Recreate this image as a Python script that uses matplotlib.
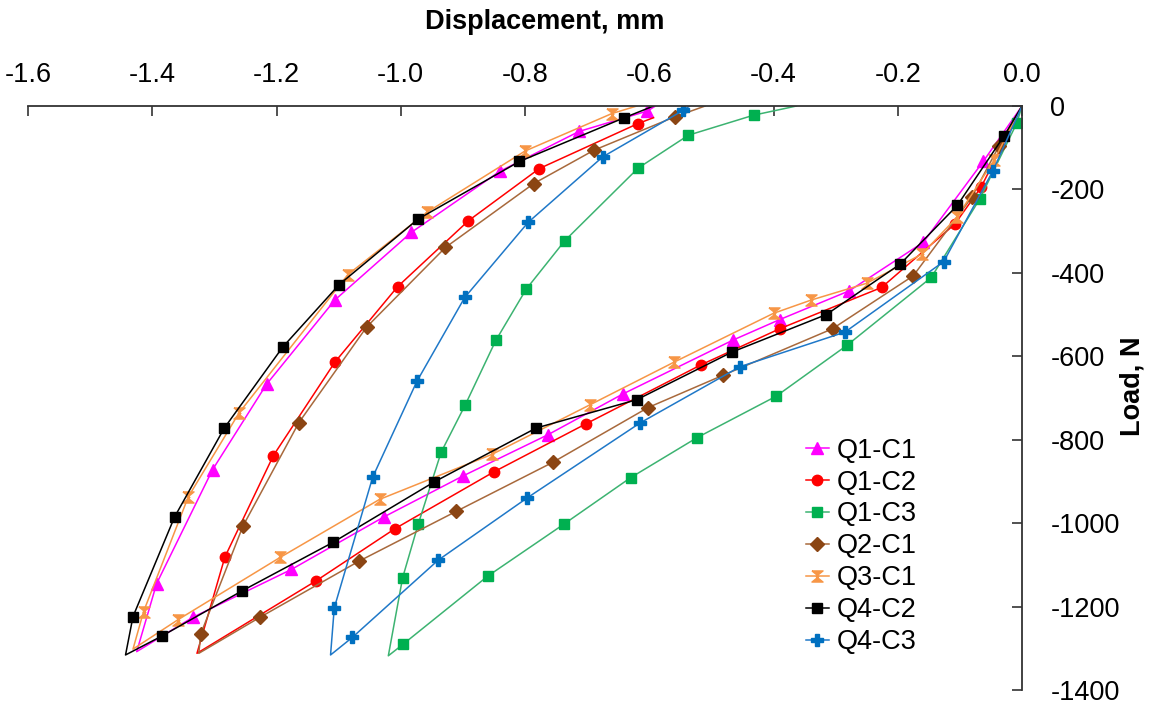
import matplotlib
matplotlib.use('Agg')
import matplotlib.pyplot as plt
from matplotlib.path import Path
import numpy as np

plt.rcParams['font.family'] = ['Liberation Sans', 'DejaVu Sans']
plt.rcParams['axes.unicode_minus'] = False

# ---- data (displacement mm, load N), loading branch then unloading branch ----
names = ['Q1-C1', 'Q1-C2', 'Q1-C3', 'Q2-C1', 'Q3-C1', 'Q4-C2', 'Q4-C3']

q1c1_x = [0, -0.062, -0.159, -0.278, -0.39, -0.465, -0.642, -0.763, -0.9, -1.027, -1.176, -1.335, -1.425,
          -1.393, -1.303, -1.216, -1.106, -0.983, -0.841, -0.713, -0.603, -0.59]
q1c1_y = [0, -132, -327, -443, -512, -561, -690, -788, -887, -985, -1111, -1226, -1308,
          -1145, -872, -667, -465, -303, -157, -61, -12, 0]

q1c2_x = [0, -0.066, -0.108, -0.226, -0.39, -0.516, -0.702, -0.85, -1.009, -1.137, -1.328,
          -1.283, -1.205, -1.106, -1.005, -0.891, -0.777, -0.618, -0.593]
q1c2_y = [0, -195, -283, -435, -534, -620, -762, -877, -1013, -1139, -1312,
          -1081, -838, -614, -433, -275, -150, -42, -28]

q1c3_x = [0, -0.008, -0.068, -0.146, -0.282, -0.396, -0.523, -0.63, -0.738, -0.86, -0.996, -1.02,
          -0.997, -0.972, -0.935, -0.896, -0.847, -0.798, -0.736, -0.618, -0.537, -0.432, -0.363]
q1c3_y = [0, -40, -223, -411, -574, -696, -795, -891, -1003, -1127, -1290, -1318,
          -1131, -1003, -830, -716, -562, -439, -323, -149, -70, -22, 0]

q2c1_x = [0, -0.037, -0.081, -0.175, -0.305, -0.482, -0.602, -0.755, -0.911, -1.067, -1.227, -1.325,
          -1.322, -1.254, -1.164, -1.055, -0.928, -0.786, -0.689, -0.559, -0.51]
q2c1_y = [0, -96, -219, -407, -534, -646, -723, -854, -972, -1091, -1226, -1312,
          -1266, -1007, -759, -530, -339, -186, -106, -26, 0]

q3c1_x = [0, -0.045, -0.105, -0.161, -0.25, -0.339, -0.40, -0.56, -0.695, -0.853, -1.034, -1.194, -1.358, -1.431,
          -1.414, -1.342, -1.26, -1.085, -0.958, -0.8, -0.66, -0.62]
q3c1_y = [0, -130, -267, -355, -425, -465, -497, -614, -716, -835, -943, -1082, -1231, -1302,
          -1212, -937, -735, -404, -255, -108, -18, 0]

q4c2_x = [0, -0.029, -0.104, -0.196, -0.315, -0.467, -0.62, -0.782, -0.946, -1.109, -1.255, -1.385, -1.443,
          -1.431, -1.364, -1.284, -1.19, -1.099, -0.972, -0.809, -0.64, -0.593]
q4c2_y = [0, -72, -238, -379, -500, -590, -704, -772, -901, -1046, -1162, -1271, -1316,
          -1224, -985, -772, -578, -428, -271, -133, -28, 0]

q4c3_x = [0, -0.047, -0.126, -0.285, -0.454, -0.615, -0.796, -0.94, -1.078, -1.113,
          -1.107, -1.045, -0.974, -0.897, -0.795, -0.675, -0.545, -0.535]
q4c3_y = [0, -156, -373, -542, -625, -760, -939, -1089, -1274, -1316,
          -1203, -889, -660, -459, -279, -122, -10, 0]

x_ticks = [-1.6, -1.4, -1.2, -1.0, -0.8, -0.6, -0.4, -0.2, 0.0]
y_ticks = [0, -200, -400, -600, -800, -1000, -1200, -1400]

# ---- styles ----
hourglass = Path([(-1, 1), (1, 1), (-0.25, 0), (1, -1), (-1, -1), (0.25, 0), (-1, 1)])
series = [
    (q1c1_x, q1c1_y, '#FF00FF', '#FF00FF', '^', 8.5),
    (q1c2_x, q1c2_y, '#FF0000', '#FF0000', 'o', 7.5),
    (q1c3_x, q1c3_y, '#3CB371', '#00B050', 's', 7.5),
    (q2c1_x, q2c1_y, '#A8693C', '#8B4513', 'D', 7),
    (q3c1_x, q3c1_y, '#F79646', '#F79646', hourglass, 8),
    (q4c2_x, q4c2_y, '#000000', '#000000', 's', 7.5),
    (q4c3_x, q4c3_y, '#1F78C8', '#0070C0', 'P', 9),
]

fig = plt.figure(figsize=(11.55, 7.06), dpi=100)
ax = fig.add_axes([28 / 1155, 1 - 690 / 706, (1022 - 28) / 1155, (690 - 106) / 706])

for (xs, ys, lc, mc, mk, ms), name in zip(series, names):
    ys_arr = np.asarray(ys)
    bottom = int(np.argmin(ys_arr))
    mark_idx = [i for i in range(len(xs)) if i not in (0, bottom, len(xs) - 1)]
    ax.plot(xs, ys, color=lc, lw=1.1, marker=mk, ms=ms, mfc=mc, mec=mc,
            markevery=mark_idx, label=name)

ax.set_xlim(-1.6, 0.0)
ax.set_ylim(-1400, 0)
ax.xaxis.tick_top()
ax.xaxis.set_label_position('top')
ax.yaxis.tick_right()
ax.yaxis.set_label_position('right')
for s in ['left', 'bottom']:
    ax.spines[s].set_visible(False)
for s in ['top', 'right']:
    ax.spines[s].set_color('#333333')
    ax.spines[s].set_linewidth(1.3)

ax.set_xticks(x_ticks)
ax.set_xticklabels([f'{v:.1f}' for v in x_ticks])
ax.set_yticks(y_ticks)
ax.set_yticklabels([str(v) for v in y_ticks])
ax.tick_params(axis='x', direction='in', length=7, width=1.2, color='#333333',
               labelsize=19.5, pad=13, top=True, bottom=False)
ax.tick_params(axis='y', direction='in', length=7, width=1.2, color='#333333',
               labelsize=19.5, pad=20.5, right=True, left=False)

ax.set_xlabel('Displacement, mm', fontsize=19.5, fontweight='bold')
ax.xaxis.label.set_verticalalignment('center')
ax.xaxis.label.set_horizontalalignment('center')
ax.xaxis.set_label_coords((545 - 28) / 994, (690 - 22) / 584)

ax.set_ylabel('Load, N', fontsize=19.5, fontweight='bold', rotation=90)
ax.yaxis.label.set_verticalalignment('center')
ax.yaxis.label.set_horizontalalignment('center')
ax.yaxis.set_label_coords((1132 - 28) / 994, (690 - 386) / 584)

leg = ax.legend(loc='upper left', bbox_to_anchor=(792 / 1155, 1 - 424 / 706),
                bbox_transform=fig.transFigure, frameon=False, fontsize=19.5,
                handlelength=0.85, handletextpad=0.3, labelspacing=0.22,
                borderpad=0, numpoints=1)

fig.savefig('out.png', dpi=100)
